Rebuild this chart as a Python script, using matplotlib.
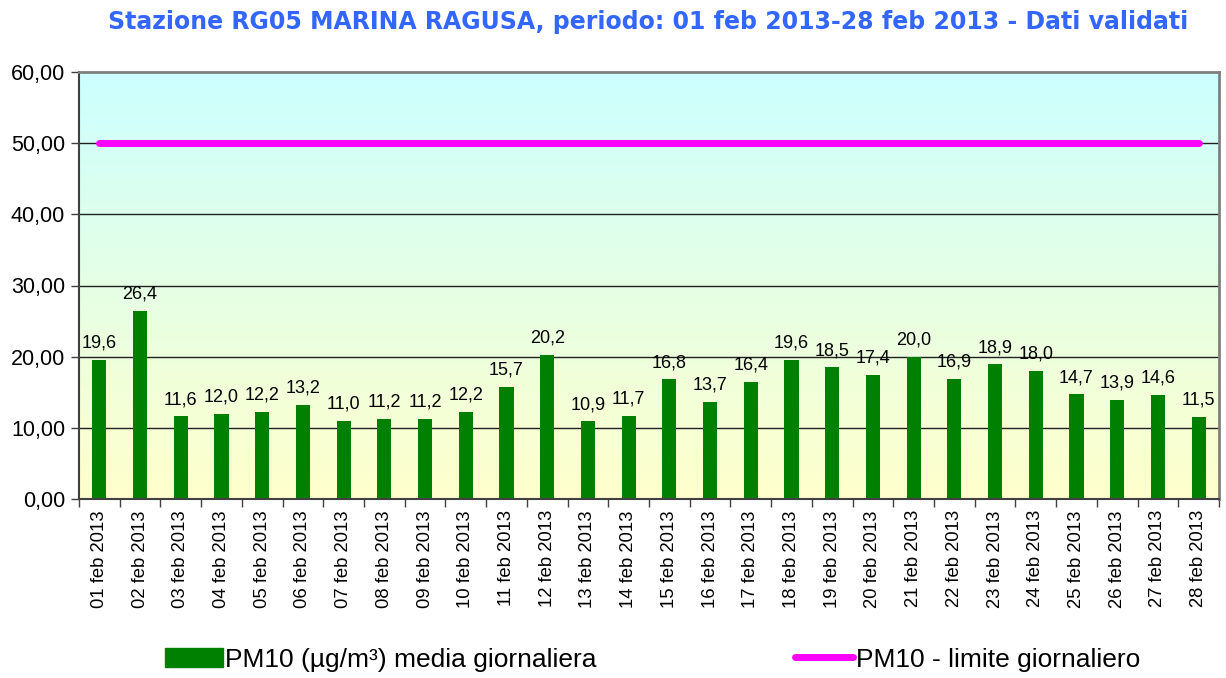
""" PM10 daily means, RG05 Marina Ragusa, feb 2013 """
import numpy as np
import matplotlib.pyplot as plt
from matplotlib.colors import LinearSegmentedColormap
from matplotlib.lines import Line2D
from matplotlib.patches import Patch

days = ["%02d feb 2013" % d for d in range(1, 29)]
pm10 = [19.6, 26.4, 11.6, 12.0, 12.2, 13.2, 11.0, 11.2, 11.2, 12.2,
        15.7, 20.2, 10.9, 11.7, 16.8, 13.7, 16.4, 19.6, 18.5, 17.4,
        20.0, 16.9, 18.9, 18.0, 14.7, 13.9, 14.6, 11.5]
limite = [50] * len(days)
yticks = [0, 10, 20, 30, 40, 50, 60]

plt.rcParams['font.family'] = ['Liberation Sans', 'DejaVu Sans']

fig = plt.figure(figsize=(12.26, 6.78), dpi=100)
ax = fig.add_axes([79 / 1226, 1 - 499 / 678, 1140 / 1226, 427 / 678])

x = np.arange(len(days))
ax.set_xlim(-0.5, len(days) - 0.5)
ax.set_ylim(0, 60)

# gradient background, cyan on top to pale yellow at the bottom
cmap = LinearSegmentedColormap.from_list("bg", ["#ffffcc", "#ccffff"])
grad = np.linspace(0, 1, 256).reshape(-1, 1)
ax.imshow(grad, cmap=cmap, aspect='auto', origin='lower',
          extent=[-0.5, len(days) - 0.5, 0, 60], zorder=0)

for yv in yticks[1:-1]:
    ax.axhline(yv, color='#202020', lw=1, zorder=1)

bars = ax.bar(x, pm10, width=0.35, color='#008000', zorder=2)
ax.bar_label(bars, labels=[("%.1f" % v).replace('.', ',') for v in pm10],
             padding=6, fontsize=13)
ax.plot(x, limite, color='#ff00ff', lw=5, solid_capstyle='round', zorder=3)

ax.set_yticks(yticks)
ax.set_yticklabels([("%.2f" % v).replace('.', ',') for v in yticks], fontsize=15.5)
ax.set_xticks(x)
ax.set_xticklabels(days, rotation=90, fontsize=13.3)
ax.set_xticks(np.arange(-0.5, len(days), 1), minor=True)
ax.tick_params(axis='x', which='major', length=0, pad=8)
ax.tick_params(axis='x', which='minor', length=6, width=1, color='#404040')
ax.tick_params(axis='y', length=6, width=1, color='#404040', pad=4)

for s in ['top', 'right']:
    ax.spines[s].set_color('#808080')
    ax.spines[s].set_linewidth(2)
ax.spines['left'].set_color('#404040')
ax.spines['left'].set_linewidth(1.5)
ax.spines['bottom'].set_color('#404040')
ax.spines['bottom'].set_linewidth(1.5)

fig.text(0.529, 0.967,
         "Stazione RG05 MARINA RAGUSA, periodo: 01 feb 2013-28 feb 2013 - Dati validati",
         color='#3366ff', fontsize=17, fontweight='bold', ha='center', va='center',
         family='DejaVu Sans')

handles = [Patch(color='#008000'), Line2D([0], [0], color='#ff00ff', lw=5, solid_capstyle='round')]
fig.legend(handles, ["PM10 (µg/m³) media giornaliera", "PM10 - limite giornaliero"],
           loc='center', bbox_to_anchor=(0.532, 0.027), ncol=2, frameon=False,
           fontsize=19, columnspacing=7.5, handlelength=2.2, handletextpad=0.1)

fig.savefig("out.png", dpi=100)
